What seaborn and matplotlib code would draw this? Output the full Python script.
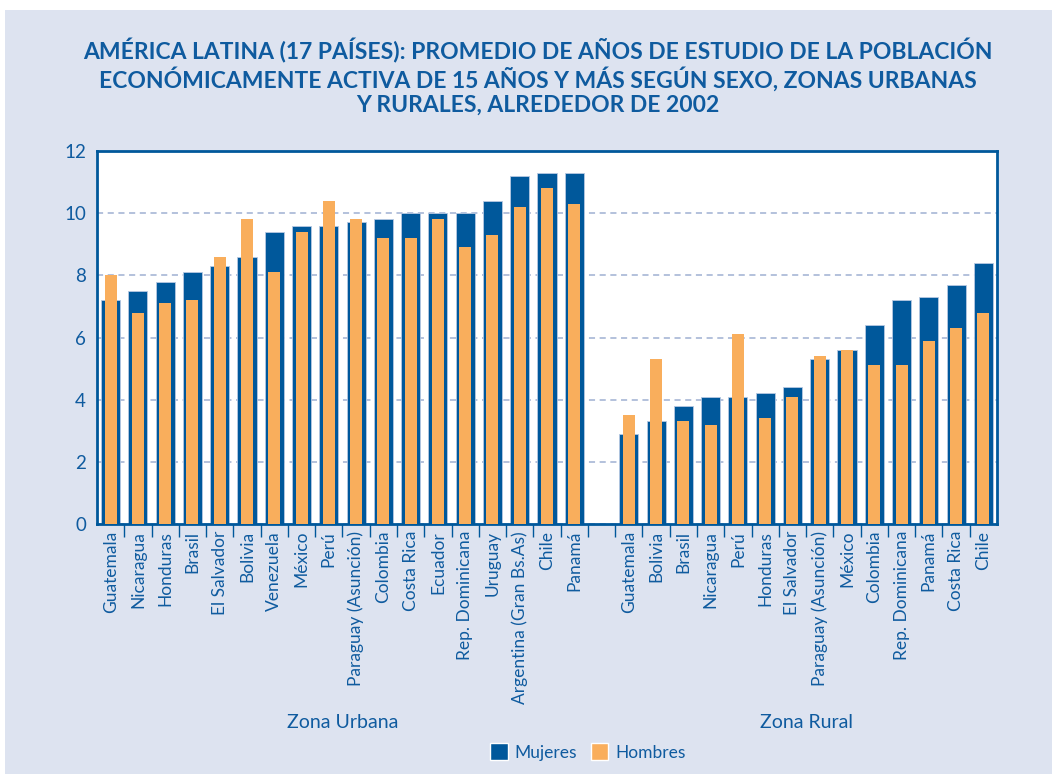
import pandas as pd
import numpy as np
import matplotlib.pyplot as plt
import seaborn as sns
from matplotlib.patches import Patch, Rectangle
from matplotlib.ticker import FixedLocator
import matplotlib.transforms as mtransforms

# urban zone
urban_countries = ['Guatemala', 'Nicaragua', 'Honduras', 'Brasil', 'El Salvador', 'Bolivia',
                   'Venezuela', 'México', 'Perú', 'Paraguay (Asunción)', 'Colombia', 'Costa Rica',
                   'Ecuador', 'Rep. Dominicana', 'Uruguay', 'Argentina (Gran Bs.As)', 'Chile', 'Panamá']
urban_mujeres = [7.2, 7.5, 7.8, 8.1, 8.3, 8.6, 9.4, 9.6, 9.6, 9.7, 9.8, 10.0, 10.0, 10.0, 10.4, 11.2, 11.3, 11.3]
urban_hombres = [8.0, 6.8, 7.1, 7.2, 8.6, 9.8, 8.1, 9.4, 10.4, 9.8, 9.2, 9.2, 9.8, 8.9, 9.3, 10.2, 10.8, 10.3]

# rural zone
rural_countries = ['Guatemala', 'Bolivia', 'Brasil', 'Nicaragua', 'Perú', 'Honduras', 'El Salvador',
                   'Paraguay (Asunción)', 'México', 'Colombia', 'Rep. Dominicana', 'Panamá',
                   'Costa Rica', 'Chile']
rural_mujeres = [2.9, 3.3, 3.8, 4.1, 4.1, 4.2, 4.4, 5.3, 5.6, 6.4, 7.2, 7.3, 7.7, 8.4]
rural_hombres = [3.5, 5.3, 3.3, 3.2, 6.1, 3.4, 4.1, 5.4, 5.6, 5.1, 5.1, 5.9, 6.3, 6.8]

title = ('AMÉRICA LATINA (17 PAÍSES): PROMEDIO DE AÑOS DE ESTUDIO DE LA POBLACIÓN\n'
         'ECONÓMICAMENTE ACTIVA DE 15 AÑOS Y MÁS SEGÚN SEXO, ZONAS URBANAS\n'
         'Y RURALES, ALREDEDOR DE 2002')

BLUE = '#00589b'
ORANGE = '#f9ae5c'
TEXT = '#0f5b9f'
BG = '#dde3f0'

urban_keys = ['U|' + c for c in urban_countries]
rural_keys = ['R|' + c for c in rural_countries]
order = urban_keys + ['gap'] + rural_keys
labels = urban_countries + [''] + rural_countries

df = pd.DataFrame({
    'slot': urban_keys + rural_keys,
    'Mujeres': urban_mujeres + rural_mujeres,
    'Hombres': urban_hombres + rural_hombres,
})

sns.set_style('white')
plt.rcParams['font.family'] = ['Lato', 'DejaVu Sans']

fig = plt.figure(figsize=(10.52, 7.74), dpi=100)
fig.patch.set_facecolor('white')
fig.patches.append(Rectangle((5 / 1052, 0), 1, 1 - 10 / 774, transform=fig.transFigure,
                             facecolor=BG, edgecolor='none', zorder=-10))

ax = fig.add_axes([97 / 1052, 1 - 524 / 774, 900 / 1052, 373 / 774])
ax.set_facecolor('white')

sns.barplot(data=df, x='slot', y='Mujeres', order=order, color=BLUE, saturation=1,
            width=0.7, errorbar=None, edgecolor='#b7c8e2', linewidth=0.6, ax=ax, zorder=2)
sns.barplot(data=df, x='slot', y='Hombres', order=order, color=ORANGE, saturation=1,
            width=0.44, errorbar=None, linewidth=0, ax=ax, zorder=3)

ax.set_xlim(-0.5, len(order) - 0.5)
ax.set_ylim(0, 12)
ax.set_yticks(np.arange(0, 13, 2))
ax.yaxis.grid(True, color='#9fb0d2', linestyle=(0, (4, 3)), linewidth=1.1, zorder=1)
ax.set_axisbelow(True)

ax.set_xticks(range(len(order)))
ax.set_xticklabels(labels, rotation=90, fontsize=12.5, color=TEXT)
ax.xaxis.set_minor_locator(FixedLocator(np.arange(0.5, len(order) - 1, 1)))
ax.tick_params(axis='x', which='major', length=0, pad=5)
ax.tick_params(axis='x', which='minor', length=9, width=1, color=BLUE, direction='out', bottom=True)
ax.tick_params(axis='y', length=0, pad=8, labelsize=13.5, labelcolor=TEXT)
ax.set_xlabel('')
ax.set_ylabel('')

for s in ax.spines.values():
    s.set_visible(True)
    s.set_color(BLUE)
    s.set_linewidth(2)

trans = mtransforms.blended_transform_factory(ax.transData, ax.transAxes)
ax.text((len(urban_keys) - 1) / 2, -0.531, 'Zona Urbana', transform=trans, ha='center',
        va='center', fontsize=14, color=TEXT)
ax.text(len(urban_keys) + 1 + (len(rural_keys) - 1) / 2, -0.531, 'Zona Rural', transform=trans,
        ha='center', va='center', fontsize=14, color=TEXT)

fig.text(538 / 1052, 1 - 77 / 774, title, ha='center', va='center', fontsize=16.5,
         fontweight='bold', color=TEXT, linespacing=1.15)

handles = [Patch(facecolor=BLUE, label='Mujeres'), Patch(facecolor=ORANGE, label='Hombres')]
leg = fig.legend(handles=handles, loc='center', bbox_to_anchor=(588 / 1052, 1 - 752 / 774),
                 ncol=2, frameon=False, fontsize=12.5, handlelength=1.0, handleheight=1.1,
                 columnspacing=0.8, handletextpad=0.4)
for t in leg.get_texts():
    t.set_color(TEXT)

fig.savefig('out.png', dpi=100, facecolor=fig.get_facecolor())
